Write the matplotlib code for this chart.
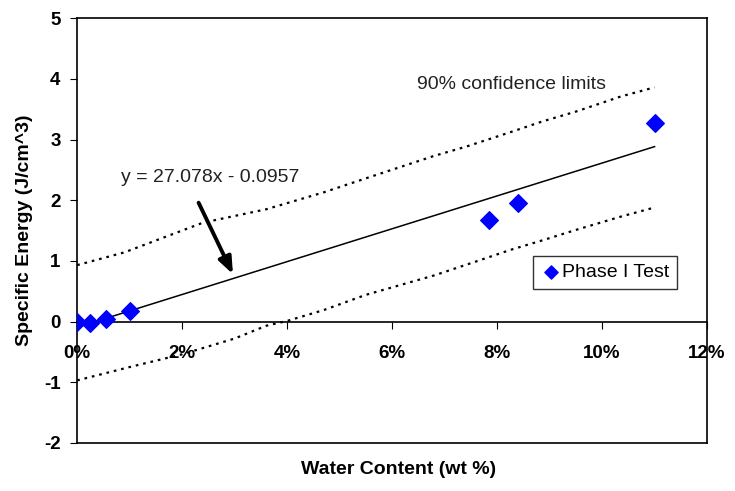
import numpy as np
import matplotlib.pyplot as plt
from matplotlib.ticker import FuncFormatter

plt.rcParams['font.family'] = ['Liberation Sans', 'DejaVu Sans']
plt.rcParams['axes.unicode_minus'] = False

# test data
water = [0.0, 0.0025, 0.0055, 0.010, 0.0785, 0.084, 0.110]
energy = [0.0, -0.02, 0.05, 0.17, 1.68, 1.95, 3.28]

# linear fit
slope = 27.078
intercept = -0.0957
fit_x = [0.0, 0.110]

# 90% confidence limits
upper_x = [0.0, 0.009, 0.020, 0.024, 0.036, 0.047, 0.055, 0.068, 0.074, 0.0825, 0.0887, 0.095, 0.1036, 0.110]
upper_y = [0.93, 1.14, 1.50, 1.63, 1.85, 2.13, 2.36, 2.73, 2.88, 3.12, 3.30, 3.46, 3.71, 3.86]
lower_x = [0.0, 0.010, 0.020, 0.030, 0.036, 0.040, 0.047, 0.055, 0.068, 0.076, 0.0825, 0.0887, 0.095, 0.1036, 0.110]
lower_y = [-0.97, -0.75, -0.54, -0.28, -0.07, 0.01, 0.19, 0.44, 0.76, 0.99, 1.18, 1.34, 1.51, 1.73, 1.88]

fig = plt.figure(figsize=(7.35, 4.91), dpi=100)
ax = fig.add_axes([0.105, 0.098, 0.857, 0.865])

dots = (0, (1.2, 2.2))
ax.plot(upper_x, upper_y, color='black', lw=1.6, linestyle=dots)
ax.plot(lower_x, lower_y, color='black', lw=1.6, linestyle=dots)
ax.plot(fit_x, [slope * x + intercept for x in fit_x], color='black', lw=1.1)
ax.scatter(water, energy, marker='D', s=80, color='#0000FF', zorder=5, label='Phase I Test')

ax.set_xlim(0, 0.12)
ax.set_ylim(-2, 5)
ax.set_xticks(np.arange(0, 0.121, 0.02))
ax.set_yticks(range(-2, 6))
ax.xaxis.set_major_formatter(FuncFormatter(lambda v, p: f"{v*100:.0f}%"))

# x axis crosses at zero, box closed with a line at the bottom
ax.spines['bottom'].set_position(('data', 0))
ax.plot([0, 0.12], [-2, -2], color='black', lw=1.2, clip_on=False)
for s in ax.spines.values():
    s.set_linewidth(1.2)

ax.tick_params(axis='y', direction='out', length=5, labelsize=13.5, pad=7)
ax.tick_params(axis='x', direction='out', length=5, labelsize=13.5, pad=12)
for lab in ax.get_xticklabels() + ax.get_yticklabels():
    lab.set_fontweight('bold')

fig.text(0.542, 0.043, "Water Content (wt %)", fontsize=14, fontweight='bold', ha='center', va='center')
ax.set_ylabel("Specific Energy (J/cm^3)", fontsize=14, fontweight='bold', labelpad=8)

ax.text(0.0083, 2.37, "y = 27.078x - 0.0957", fontsize=14, color='#222222', va='center')
ax.text(0.0647, 3.91, "90% confidence limits", fontsize=14, color='#222222', va='center')
ax.annotate("", xy=(0.0299, 0.74), xytext=(0.0229, 2.0),
            arrowprops=dict(arrowstyle='-|>,head_length=1.0,head_width=0.4', color='black', lw=2.8))

leg = ax.legend(loc='upper left', bbox_to_anchor=(0.724, 0.44), fontsize=14, frameon=True,
                fancybox=False, edgecolor='black', handletextpad=0.1, borderpad=0.4,
                borderaxespad=0, handlelength=1.0, scatterpoints=1, markerscale=0.75)
leg.get_frame().set_linewidth(1.0)

fig.savefig("out.png", dpi=100)
